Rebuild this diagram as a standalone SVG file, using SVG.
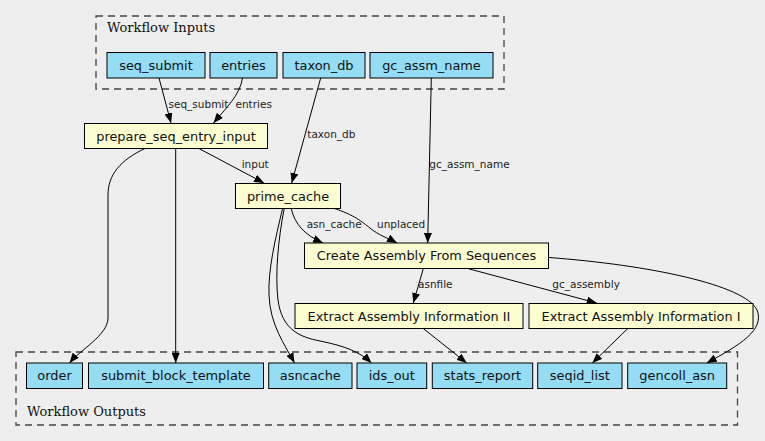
<svg xmlns="http://www.w3.org/2000/svg" width="765" height="441" viewBox="0 0 765 441">
<defs>
<marker id="ah" markerWidth="10" markerHeight="8" refX="10" refY="4" orient="auto" markerUnits="userSpaceOnUse">
<path d="M0,0 L10,4 L0,8 Z" fill="#000"/>
</marker>
<style>
.bg{fill:#eeeeee}
.cl{fill:none;stroke:#444;stroke-width:1.3;stroke-dasharray:7,5}
.clt{font-family:"DejaVu Serif",serif;font-size:13px;fill:#111}
.io rect{fill:#94ddf4;stroke:#000;stroke-width:1}
.st rect{fill:#fdfdd2;stroke:#000;stroke-width:1}
.n text{font-family:"DejaVu Sans",sans-serif;font-size:12.9px;fill:#111;text-anchor:middle}
.e path{fill:none;stroke:#000;stroke-width:1;marker-end:url(#ah)}
.e text{font-family:"DejaVu Sans",sans-serif;font-size:10.5px;fill:#222}
</style>
</defs>
<rect class="bg" x="0" y="0" width="765" height="441"/>
<g id="cluster_inputs">
<rect class="cl" x="96" y="16" width="408" height="73"/>
<text class="clt" x="107" y="32">Workflow Inputs</text>
</g>
<g id="cluster_outputs">
<rect class="cl" x="16" y="352" width="721.5" height="73"/>
<text class="clt" x="27" y="415.5">Workflow Outputs</text>
</g>
<g id="edges" class="e">
<path d="M159,78 L171,123"/>
<text x="168.5" y="108.3">seq_submit</text>
<path d="M242.5,78 C240,95 226,108 213.5,123"/>
<text x="235.5" y="108.3">entries</text>
<path d="M320.7,78 L291.7,183"/>
<text x="307.3" y="138">taxon_db</text>
<path d="M431.3,78 L427.7,243"/>
<text x="429.3" y="168.3">gc_assm_name</text>
<path d="M198,148 L264,183"/>
<text x="241.7" y="167.7">input</text>
<path d="M146,148 C120,160 108,175 108,195 L108,318 C108,335 80,350 69.5,363"/>
<path d="M175.7,148 L175.7,363"/>
<path d="M282.7,208 C275,240 268,270 269,295 C270,325 285,345 294.5,363"/>
<path d="M284.3,208 C278,240 275,275 278,300 C282,330 300,337 320,341 C345,346 360,352 371.5,363"/>
<path d="M291,208 C295,225 305,235 323,243"/>
<text x="306.7" y="228.3">asn_cache</text>
<path d="M332.7,208 C355,215 362,222 370,228 C378,235 388,238 397,243"/>
<text x="377" y="228.3">unplaced</text>
<path d="M423.3,268.7 L413.3,303"/>
<text x="418" y="288.3">asnfile</text>
<path d="M468.3,268.7 L596.7,303"/>
<text x="552.3" y="288.3">gc_assembly</text>
<path d="M548.7,257.5 C650,265 745,285 757,310 C765,330 740,345 706.7,363"/>
<path d="M423,328.3 L466.7,363"/>
<path d="M628,328.3 L592.3,363"/>
</g>
<g id="seq_submit" class="n io"><rect x="107" y="52.5" width="98" height="25.5"/><text x="156" y="69.8">seq_submit</text></g>
<g id="entries" class="n io"><rect x="210" y="52.5" width="67" height="25.5"/><text x="243.5" y="69.8">entries</text></g>
<g id="taxon_db" class="n io"><rect x="283" y="52.5" width="82" height="25.5"/><text x="324" y="69.8">taxon_db</text></g>
<g id="gc_assm_name" class="n io"><rect x="370" y="52.5" width="123" height="25.5"/><text x="431.5" y="69.8">gc_assm_name</text></g>
<g id="prepare_seq_entry_input" class="n st"><rect x="84.5" y="123.5" width="183" height="25"/><text x="176" y="140.6">prepare_seq_entry_input</text></g>
<g id="prime_cache" class="n st"><rect x="235.5" y="183.5" width="105" height="25"/><text x="288" y="200.6">prime_cache</text></g>
<g id="create_assembly" class="n st"><rect x="304.5" y="243" width="244" height="25.5"/><text x="426.5" y="260.4">Create Assembly From Sequences</text></g>
<g id="extract_ii" class="n st"><rect x="295" y="303.5" width="228" height="25"/><text x="409" y="320.6">Extract Assembly Information II</text></g>
<g id="extract_i" class="n st"><rect x="529" y="303.5" width="224" height="25"/><text x="641" y="320.6">Extract Assembly Information I</text></g>
<g id="order" class="n io"><rect x="26.5" y="363" width="56" height="25.5"/><text x="54.5" y="380.4">order</text></g>
<g id="submit_block_template" class="n io"><rect x="88.5" y="363" width="175" height="25.5"/><text x="176" y="380.4">submit_block_template</text></g>
<g id="asncache" class="n io"><rect x="268.7" y="363" width="83.3" height="25.5"/><text x="310.3" y="380.4">asncache</text></g>
<g id="ids_out" class="n io"><rect x="357" y="363" width="69.7" height="25.5"/><text x="391.8" y="380.4">ids_out</text></g>
<g id="stats_report" class="n io"><rect x="432.3" y="363" width="100.4" height="25.5"/><text x="482.5" y="380.4">stats_report</text></g>
<g id="seqid_list" class="n io"><rect x="537.7" y="363" width="84.3" height="25.5"/><text x="579.8" y="380.4">seqid_list</text></g>
<g id="gencoll_asn" class="n io"><rect x="627.7" y="363" width="99" height="25.5"/><text x="677.2" y="380.4">gencoll_asn</text></g>
</svg>
